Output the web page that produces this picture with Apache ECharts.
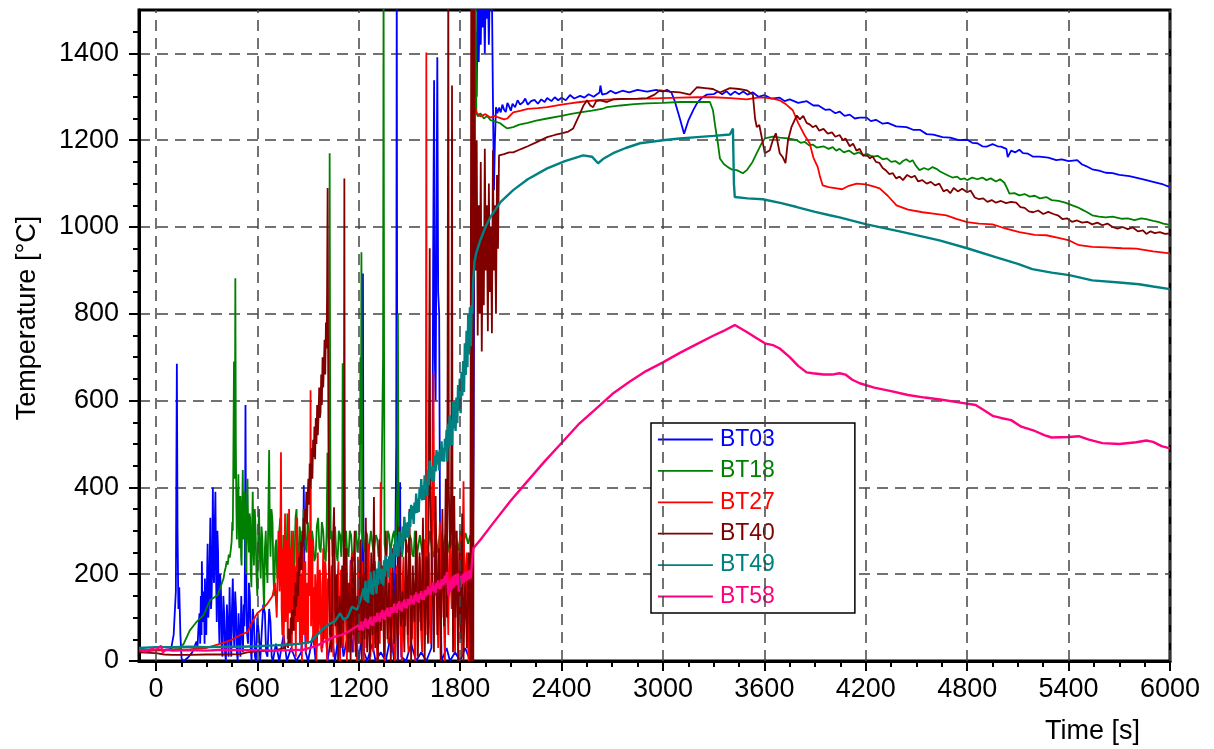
<!DOCTYPE html>
<html>
<head>
<meta charset="utf-8">
<script src="https://cdn.jsdelivr.net/npm/echarts@6/dist/echarts.min.js"></script>
<style>
  html, body { margin: 0; padding: 0; background: #fff; }
  #chart { width: 1214px; height: 749px; }
</style>
</head>
<body>
<div id="chart"></div>
<script>
// Thermocouple temperatures, [time s, temperature °C]
const bt03 = [[-100,24],[-50,22],[0,26],[50,25],[90,28],[105,60],[118,160],[124,685],[128,300],[133,120],[138,170],[145,60],[152,5],[165,0],[190,8],[215,20],[240,45],[246,30],[252,80],[258,110],[262,40],[266,150],[270,60],[272,230],[276,90],[280,90],[284,160],[288,40],[290,190],[294,110],[298,60],[302,180],[306,270],[310,100],[314,130],[318,220],[322,330],[326,120],[330,150],[334,260],[337,400],[341,200],[344,180],[348,300],[352,390],[356,200],[360,90],[364,300],[368,250],[372,100],[376,40],[380,200],[385,160],[390,30],[394,10],[399,150],[404,110],[409,20],[414,0],[420,130],[425,80],[430,10],[436,170],[441,60],[446,10],[450,120],[455,190],[460,70],[464,30],[469,160],[474,120],[479,20],[484,0],[489,110],[494,60],[500,10],[505,150],[510,80],[515,20],[520,130],[524,80],[527,250],[530,590],[533,300],[536,120],[540,60],[545,40],[550,180],[556,150],[561,30],[566,0],[573,120],[580,90],[586,10],[592,0],[600,100],[610,60],[617,0],[625,0],[635,130],[645,110],[652,20],[660,10],[670,120],[678,90],[685,10],[692,0],[710,40],[730,0],[755,60],[775,0],[800,30],[830,0],[860,20],[870,150],[875,405],[880,120],[886,20],[900,0],[930,60],[945,0],[970,150],[985,30],[1000,120],[1015,0],[1040,60],[1060,0],[1090,90],[1110,10],[1135,60],[1148,150],[1152,232],[1156,80],[1162,20],[1180,80],[1200,0],[1218,60],[1222,400],[1225,893],[1228,300],[1232,20],[1250,0],[1280,40],[1300,0],[1330,20],[1360,0],[1390,60],[1410,0],[1422,500],[1425,1600],[1428,500],[1432,0],[1440,200],[1445,412],[1449,100],[1452,10],[1480,0],[1510,40],[1540,0],[1570,20],[1600,0],[1630,30],[1637,500],[1640,900],[1646,1338],[1650,700],[1655,600],[1660,1000],[1665,1391],[1670,850],[1676,800],[1682,200],[1690,0],[1720,30],[1740,0],[1770,20],[1800,0],[1830,30],[1860,0],[1872,40],[1880,500],[1886,1250],[1892,1450],[1898,1300],[1904,1550],[1910,1380],[1916,1520],[1922,1420],[1928,1560],[1934,1460],[1940,1540],[1946,1400],[1952,1560],[1958,1480],[1964,1550],[1970,1420],[1976,1560],[1982,1500],[1988,1540],[1994,1300],[2000,1085],[2006,1200],[2012,1276],[2020,1262],[2030,1275],[2040,1264],[2050,1282],[2060,1270],[2070,1265],[2080,1286],[2090,1278],[2100,1268],[2110,1284],[2125,1276],[2140,1292],[2155,1282],[2173,1288],[2185,1296],[2200,1282],[2220,1290],[2240,1293],[2260,1284],[2280,1294],[2300,1288],[2315,1297],[2340,1290],[2360,1299],[2380,1292],[2400,1298],[2425,1292],[2450,1304],[2475,1296],[2510,1302],[2535,1298],[2560,1306],[2590,1300],[2610,1306],[2625,1310],[2630,1326],[2640,1305],[2669,1308],[2690,1314],[2720,1308],[2760,1314],[2800,1310],[2850,1316],[2906,1312],[2960,1316],[3000,1312],[3024,1316],[3050,1310],[3070,1290],[3100,1250],[3125,1215],[3150,1245],[3180,1270],[3201,1285],[3230,1298],[3260,1305],[3300,1306],[3325,1312],[3350,1306],[3375,1313],[3400,1304],[3425,1312],[3450,1306],[3475,1312],[3500,1305],[3532,1310],[3565,1300],[3600,1304],[3640,1296],[3691,1298],[3720,1290],[3750,1294],[3800,1286],[3851,1290],[3890,1280],[3920,1280],[3960,1270],[3987,1271],[4020,1262],[4045,1266],[4075,1256],[4105,1259],[4135,1250],[4164,1252],[4205,1252],[4230,1244],[4260,1247],[4300,1238],[4330,1240],[4380,1232],[4441,1230],[4480,1224],[4520,1224],[4560,1214],[4600,1213],[4654,1207],[4700,1206],[4750,1200],[4800,1201],[4830,1194],[4860,1193],[4890,1186],[4914,1185],[4950,1191],[4980,1186],[5000,1185],[5032,1180],[5040,1161],[5060,1176],[5085,1172],[5109,1178],[5130,1170],[5160,1169],[5190,1162],[5227,1162],[5280,1160],[5327,1154],[5360,1156],[5400,1152],[5451,1154],[5480,1144],[5500,1141],[5540,1133],[5580,1130],[5620,1125],[5660,1124],[5700,1120],[5760,1117],[5817,1112],[5860,1108],[5900,1104],[5960,1098],[6000,1092]];

const bt18 = [[-100,25],[0,24],[80,26],[140,28],[165,40],[200,70],[240,90],[283,106],[320,140],[366,152],[400,190],[406,205],[413,216],[419,230],[425,222],[431,245],[437,238],[443,256],[448,275],[452,320],[455,300],[458,450],[462,690],[465,420],[468,600],[470,882],[473,500],[476,360],[479,280],[482,400],[485,330],[488,430],[491,290],[494,260],[497,350],[500,380],[504,240],[507,220],[510,330],[514,440],[518,280],[521,300],[525,390],[528,360],[531,230],[535,200],[538,330],[542,420],[546,300],[550,250],[554,340],[558,330],[561,210],[565,170],[569,300],[573,390],[577,260],[580,220],[585,350],[590,300],[595,200],[600,150],[605,280],[610,350],[615,240],[620,190],[625,310],[630,280],[635,180],[640,120],[645,260],[650,300],[655,220],[660,180],[665,330],[670,486],[674,300],[678,240],[684,350],[690,320],[695,200],[700,150],[706,260],[712,280],[718,190],[724,200],[730,300],[736,330],[742,220],[748,180],[754,290],[760,260],[766,200],[772,220],[778,340],[784,310],[790,230],[796,200],[802,300],[808,270],[814,210],[820,230],[826,330],[832,350],[838,250],[844,220],[850,310],[856,290],[862,230],[868,240],[874,350],[880,330],[886,260],[892,250],[898,320],[905,300],[911,240],[918,230],[924,300],[930,280],[937,230],[945,240],[952,310],[960,330],[967,260],[975,250],[982,320],[990,300],[997,240],[1005,230],[1010,300],[1015,480],[1019,300],[1022,250],[1025,500],[1028,1170],[1031,600],[1034,280],[1040,300],[1045,240],[1052,280],[1060,310],[1067,250],[1075,230],[1082,300],[1090,290],[1097,240],[1102,300],[1105,686],[1108,350],[1112,260],[1118,280],[1125,300],[1132,250],[1140,240],[1147,300],[1155,290],[1162,240],[1170,230],[1177,290],[1185,300],[1192,250],[1200,250],[1206,300],[1210,700],[1213,500],[1216,942],[1219,600],[1222,300],[1228,270],[1235,250],[1242,300],[1250,290],[1257,240],[1265,240],[1272,300],[1280,300],[1287,250],[1295,250],[1302,290],[1310,280],[1317,240],[1325,240],[1332,300],[1340,300],[1344,700],[1347,1600],[1350,700],[1353,270],[1359,250],[1365,240],[1372,300],[1380,290],[1387,250],[1395,250],[1402,290],[1410,300],[1417,250],[1425,250],[1429,400],[1432,800],[1435,400],[1438,260],[1444,300],[1450,290],[1457,240],[1465,240],[1472,300],[1480,300],[1487,250],[1495,250],[1502,290],[1510,280],[1517,245],[1525,240],[1532,300],[1540,300],[1547,250],[1555,250],[1562,290],[1570,290],[1577,245],[1585,240],[1592,280],[1600,280],[1607,250],[1615,250],[1622,300],[1630,300],[1637,245],[1645,240],[1652,290],[1660,290],[1667,250],[1675,250],[1682,300],[1690,300],[1697,255],[1705,255],[1712,290],[1720,290],[1727,250],[1735,250],[1742,285],[1750,285],[1757,260],[1765,260],[1772,300],[1780,300],[1787,255],[1795,255],[1802,285],[1810,285],[1817,265],[1825,265],[1832,295],[1840,295],[1847,270],[1855,270],[1860,290],[1866,290],[1872,260],[1878,1600],[1884,1300],[1890,1600],[1896,1262],[1905,1255],[1920,1262],[1940,1250],[1960,1256],[1980,1246],[2000,1244],[2037,1239],[2060,1232],[2079,1227],[2114,1230],[2150,1236],[2200,1240],[2250,1245],[2315,1250],[2400,1256],[2450,1260],[2510,1264],[2580,1268],[2646,1273],[2669,1276],[2750,1280],[2830,1283],[2906,1285],[3000,1286],[3100,1288],[3200,1288],[3278,1288],[3296,1269],[3310,1230],[3325,1193],[3337,1158],[3360,1145],[3384,1138],[3410,1132],[3437,1131],[3473,1124],[3496,1131],[3530,1150],[3555,1170],[3580,1190],[3603,1204],[3650,1208],[3691,1206],[3740,1204],[3792,1200],[3815,1194],[3840,1196],[3865,1188],[3886,1190],[3910,1183],[3950,1186],[3980,1180],[4004,1184],[4025,1176],[4045,1180],[4070,1172],[4100,1176],[4130,1168],[4160,1172],[4182,1166],[4210,1168],[4240,1162],[4270,1164],[4300,1156],[4325,1158],[4350,1150],[4375,1152],[4400,1145],[4420,1152],[4440,1156],[4460,1150],[4477,1154],[4495,1142],[4518,1131],[4545,1136],[4570,1132],[4595,1138],[4618,1134],[4640,1128],[4660,1124],[4690,1118],[4713,1114],[4740,1116],[4760,1110],[4785,1112],[4800,1108],[4830,1114],[4860,1110],[4890,1114],[4914,1108],[4940,1112],[4970,1105],[4995,1110],[5020,1102],[5035,1090],[5050,1077],[5080,1078],[5109,1073],[5140,1076],[5170,1070],[5200,1072],[5230,1066],[5268,1069],[5300,1062],[5340,1060],[5380,1056],[5422,1050],[5450,1046],[5480,1040],[5510,1034],[5540,1027],[5580,1024],[5620,1022],[5660,1024],[5717,1019],[5750,1020],[5790,1016],[5830,1020],[5859,1018],[5900,1014],[5930,1012],[5960,1008],[6000,1005]];

const bt27 = [[-100,25],[0,25],[100,26],[200,27],[300,30],[384,40],[443,48],[500,60],[543,67],[570,90],[600,110],[630,120],[661,133],[690,150],[705,180],[715,100],[725,300],[732,160],[736,250],[740,481],[744,120],[748,60],[752,260],[756,30],[760,180],[764,340],[768,90],[772,230],[776,280],[780,50],[784,200],[788,350],[792,110],[796,240],[800,260],[804,20],[808,190],[812,300],[816,70],[820,220],[824,150],[828,10],[832,260],[836,330],[840,90],[844,210],[848,250],[852,40],[856,170],[860,200],[864,0],[868,230],[872,280],[876,60],[880,190],[884,230],[888,20],[892,150],[896,180],[900,40],[904,260],[908,300],[912,150],[915,624],[918,80],[922,200],[926,280],[930,50],[934,170],[938,30],[942,200],[946,120],[950,0],[954,180],[958,250],[962,60],[966,90],[970,210],[974,180],[978,30],[982,20],[986,160],[990,260],[994,110],[998,50],[1002,230],[1006,200],[1010,40],[1014,0],[1018,190],[1022,150],[1026,280],[1030,60],[1035,130],[1040,220],[1045,70],[1050,10],[1055,250],[1060,170],[1065,90],[1070,40],[1075,190],[1080,230],[1085,60],[1090,0],[1095,210],[1100,140],[1105,50],[1110,30],[1115,260],[1120,200],[1125,80],[1130,0],[1135,180],[1140,160],[1145,20],[1150,50],[1155,220],[1160,250],[1165,100],[1170,20],[1175,170],[1180,120],[1185,30],[1190,0],[1195,240],[1200,180],[1205,70],[1210,40],[1215,150],[1220,230],[1225,90],[1230,0],[1235,200],[1240,150],[1245,30],[1250,60],[1255,270],[1260,240],[1265,80],[1270,10],[1275,160],[1280,130],[1285,20],[1290,50],[1295,230],[1300,200],[1305,60],[1310,0],[1315,150],[1320,180],[1325,40],[1330,412],[1334,70],[1340,210],[1345,160],[1350,30],[1355,0],[1360,230],[1365,200],[1370,90],[1375,40],[1380,180],[1385,250],[1390,60],[1395,20],[1400,200],[1405,140],[1410,30],[1415,0],[1420,170],[1425,220],[1430,100],[1435,60],[1440,250],[1445,180],[1450,40],[1455,0],[1460,190],[1465,240],[1470,120],[1475,80],[1480,220],[1485,160],[1490,50],[1495,20],[1500,260],[1505,230],[1510,90],[1515,50],[1520,200],[1525,170],[1530,40],[1535,0],[1540,210],[1545,260],[1550,130],[1555,90],[1560,240],[1565,200],[1570,60],[1575,20],[1580,230],[1585,280],[1590,150],[1593,100],[1597,300],[1600,1402],[1603,200],[1606,60],[1610,180],[1615,250],[1620,100],[1625,40],[1630,220],[1635,300],[1638,420],[1642,663],[1646,350],[1650,150],[1655,200],[1660,280],[1665,120],[1670,30],[1675,240],[1680,320],[1685,180],[1690,100],[1695,270],[1700,250],[1705,80],[1710,0],[1715,200],[1720,370],[1725,150],[1730,60],[1735,230],[1740,290],[1745,180],[1750,120],[1755,300],[1760,350],[1765,100],[1770,20],[1775,200],[1780,260],[1785,140],[1790,80],[1795,250],[1800,300],[1805,100],[1810,10],[1815,260],[1820,414],[1825,200],[1830,120],[1835,220],[1840,250],[1845,60],[1850,0],[1855,180],[1860,200],[1865,50],[1870,0],[1876,1320],[1882,1280],[1900,1262],[1920,1255],[1950,1260],[1980,1252],[2000,1256],[2030,1252],[2060,1248],[2079,1250],[2114,1264],[2160,1268],[2200,1272],[2260,1274],[2315,1276],[2400,1282],[2450,1285],[2510,1288],[2600,1292],[2705,1294],[2800,1295],[2906,1296],[3000,1297],[3100,1298],[3200,1299],[3300,1299],[3400,1297],[3496,1294],[3560,1298],[3600,1298],[3650,1296],[3691,1292],[3730,1282],[3768,1269],[3800,1240],[3840,1210],[3868,1193],[3890,1160],[3916,1138],[3930,1115],[3945,1096],[3980,1092],[4028,1089],[4060,1087],[4100,1095],[4146,1100],[4200,1098],[4240,1094],[4282,1089],[4330,1072],[4382,1050],[4450,1040],[4536,1034],[4600,1031],[4677,1027],[4740,1018],[4800,1011],[4870,1008],[4950,1006],[5030,996],[5109,988],[5200,982],[5268,981],[5340,975],[5404,969],[5440,962],[5463,958],[5540,954],[5620,953],[5717,951],[5800,950],[5900,944],[6000,939]];

const bt40 = [[-100,20],[0,18],[50,15],[100,14],[200,14],[300,15],[400,15],[500,16],[540,20],[600,22],[700,24],[760,30],[770,35],[778,41],[782,30],[786,75],[790,52],[794,40],[798,100],[802,62],[806,118],[810,95],[814,70],[818,150],[822,104],[826,180],[830,125],[834,160],[838,205],[842,150],[846,240],[850,196],[854,230],[858,275],[862,210],[866,300],[870,262],[874,330],[878,280],[882,350],[886,320],[890,390],[894,315],[898,380],[902,420],[906,360],[910,455],[914,400],[918,430],[922,490],[926,420],[930,510],[934,470],[938,540],[942,465],[946,560],[950,500],[954,590],[958,520],[962,560],[966,630],[970,560],[974,571],[978,660],[982,590],[986,700],[990,630],[994,680],[998,740],[1002,660],[1006,780],[1010,720],[1013,860],[1016,1090],[1019,700],[1022,400],[1026,150],[1030,60],[1038,20],[1046,250],[1054,354],[1062,80],[1070,200],[1078,0],[1086,150],[1094,30],[1102,220],[1110,60],[1113,600],[1115,1112],[1117,500],[1120,100],[1128,260],[1136,20],[1144,180],[1152,0],[1160,240],[1168,60],[1176,300],[1184,10],[1192,150],[1200,40],[1210,280],[1218,0],[1226,200],[1234,50],[1242,330],[1250,20],[1258,170],[1266,0],[1274,250],[1282,60],[1290,378],[1298,30],[1306,190],[1314,0],[1322,280],[1330,70],[1340,220],[1350,10],[1360,300],[1370,50],[1380,180],[1390,0],[1400,260],[1410,40],[1420,200],[1430,0],[1440,310],[1450,80],[1460,160],[1470,20],[1480,280],[1490,60],[1500,350],[1510,0],[1520,220],[1530,90],[1540,300],[1550,10],[1560,250],[1570,70],[1580,330],[1590,0],[1600,240],[1610,40],[1617,700],[1620,951],[1623,400],[1630,260],[1640,120],[1645,20],[1655,380],[1665,60],[1675,260],[1685,0],[1695,350],[1705,80],[1715,420],[1722,100],[1726,700],[1730,1600],[1733,400],[1740,260],[1745,300],[1749,600],[1752,1326],[1755,300],[1758,20],[1765,380],[1772,100],[1780,300],[1788,0],[1796,260],[1804,50],[1812,340],[1820,0],[1830,200],[1840,30],[1850,250],[1860,0],[1863,800],[1866,1600],[1868,300],[1870,0],[1872,900],[1874,1600],[1876,200],[1878,0],[1880,1000],[1882,1600],[1886,1250],[1892,900],[1898,1200],[1904,750],[1910,1050],[1916,800],[1922,1150],[1928,713],[1934,1000],[1940,820],[1946,1180],[1952,900],[1958,1050],[1964,760],[1970,1100],[1976,850],[1982,1000],[1988,755],[1994,1177],[2000,900],[2006,1050],[2012,800],[2018,1120],[2024,950],[2030,1165],[2060,1168],[2090,1172],[2114,1172],[2150,1178],[2170,1181],[2200,1186],[2250,1195],[2315,1207],[2360,1212],[2400,1216],[2440,1220],[2469,1227],[2490,1245],[2510,1262],[2530,1280],[2551,1292],[2570,1280],[2587,1276],[2605,1290],[2628,1292],[2669,1288],[2705,1294],[2760,1295],[2850,1296],[2906,1297],[2950,1305],[2982,1315],[3040,1312],[3100,1310],[3160,1305],[3201,1322],[3250,1320],[3296,1318],[3337,1310],[3396,1320],[3450,1318],[3496,1315],[3532,1305],[3545,1250],[3555,1230],[3570,1235],[3603,1170],[3632,1177],[3650,1200],[3668,1216],[3691,1170],[3710,1160],[3725,1147],[3740,1200],[3760,1230],[3792,1257],[3810,1248],[3830,1256],[3850,1240],[3870,1236],[3886,1230],[3905,1234],[3925,1222],[3950,1226],[3975,1215],[4000,1218],[4020,1208],[4045,1212],[4065,1200],[4080,1204],[4105,1186],[4125,1192],[4145,1176],[4164,1180],[4185,1164],[4205,1166],[4225,1158],[4240,1163],[4260,1150],[4280,1148],[4300,1136],[4320,1130],[4340,1122],[4360,1124],[4380,1112],[4400,1116],[4420,1108],[4445,1120],[4470,1114],[4490,1118],[4510,1105],[4535,1108],[4560,1100],[4585,1104],[4610,1096],[4635,1100],[4660,1082],[4680,1086],[4700,1078],[4720,1090],[4745,1082],[4770,1088],[4800,1080],[4820,1084],[4845,1068],[4870,1064],[4895,1066],[4920,1058],[4945,1062],[4970,1056],[5000,1060],[5030,1055],[5060,1058],[5090,1056],[5115,1046],[5140,1044],[5165,1036],[5190,1034],[5220,1038],[5250,1030],[5280,1035],[5310,1030],[5340,1026],[5365,1018],[5390,1020],[5420,1012],[5450,1015],[5480,1010],[5510,1012],[5540,1006],[5570,1010],[5600,1004],[5630,1008],[5660,1000],[5690,996],[5720,1000],[5750,995],[5780,999],[5810,990],[5840,992],[5860,984],[5885,990],[5910,986],[5940,988],[5970,984],[6000,985]];

const bt49 = [[-100,30],[0,32],[100,32],[200,33],[300,32],[400,33],[500,33],[600,34],[700,36],[800,38],[860,40],[915,44],[950,60],[980,70],[1000,78],[1034,87],[1060,92],[1090,110],[1110,95],[1134,101],[1160,125],[1190,118],[1210,140],[1230,168],[1235,140],[1240,185],[1245,137],[1250,168],[1255,134],[1260,187],[1265,161],[1270,205],[1275,154],[1280,187],[1285,152],[1290,208],[1295,172],[1300,190],[1305,155],[1310,213],[1315,176],[1320,231],[1325,188],[1330,213],[1335,178],[1340,212],[1345,174],[1350,232],[1355,194],[1360,243],[1365,208],[1370,235],[1375,193],[1380,241],[1385,215],[1390,261],[1395,215],[1400,247],[1405,215],[1410,269],[1415,244],[1420,289],[1425,240],[1430,274],[1435,241],[1440,298],[1445,264],[1450,283],[1455,250],[1460,310],[1465,275],[1470,332],[1475,290],[1480,317],[1485,284],[1490,320],[1495,284],[1500,344],[1505,309],[1510,360],[1515,327],[1520,357],[1525,316],[1530,365],[1535,340],[1540,386],[1545,341],[1550,374],[1555,343],[1560,397],[1565,374],[1570,419],[1575,370],[1580,404],[1585,371],[1590,428],[1595,394],[1600,413],[1605,380],[1610,440],[1615,405],[1620,462],[1625,420],[1630,447],[1635,414],[1640,450],[1645,414],[1650,473],[1655,437],[1660,486],[1665,453],[1670,482],[1675,439],[1680,487],[1685,460],[1690,506],[1695,460],[1700,491],[1705,459],[1710,512],[1715,488],[1720,533],[1723,460],[1728,547],[1733,489],[1738,566],[1743,498],[1748,555],[1753,497],[1758,599],[1763,536],[1768,598],[1773,530],[1778,607],[1783,548],[1788,636],[1793,576],[1798,651],[1803,571],[1808,666],[1813,611],[1818,691],[1823,620],[1828,732],[1833,659],[1838,761],[1843,677],[1848,799],[1853,706],[1858,815],[1863,725],[1868,820],[1872,800],[1878,880],[1885,920],[1895,940],[1919,969],[1950,1000],[1978,1022],[2040,1058],[2114,1085],[2200,1110],[2315,1135],[2420,1152],[2528,1165],[2580,1162],[2616,1147],[2650,1158],[2705,1170],[2780,1182],[2864,1193],[3000,1200],[3100,1204],[3201,1207],[3300,1210],[3396,1213],[3405,1216],[3414,1227],[3420,1100],[3425,1069],[3500,1066],[3591,1064],[3700,1055],[3792,1046],[3900,1035],[3987,1027],[4045,1022],[4205,1006],[4400,990],[4636,969],[4800,951],[4973,930],[5100,915],[5185,903],[5300,895],[5404,889],[5540,877],[5700,872],[5817,868],[5900,863],[6000,857]];

const bt58 = [[-100,25],[-60,22],[-20,28],[0,25],[30,35],[40,20],[60,26],[100,24],[200,25],[300,24],[400,26],[500,25],[600,25],[700,24],[800,25],[875,26],[950,35],[1000,45],[1050,55],[1100,60],[1150,70],[1200,83],[1205,70],[1210,91],[1215,74],[1220,82],[1225,70],[1230,92],[1235,80],[1240,98],[1245,77],[1250,90],[1255,74],[1260,96],[1265,85],[1270,102],[1275,82],[1280,93],[1285,81],[1290,103],[1295,89],[1300,103],[1305,90],[1310,111],[1315,94],[1320,102],[1325,90],[1330,112],[1335,100],[1340,118],[1345,97],[1350,110],[1355,95],[1360,117],[1365,106],[1370,123],[1375,103],[1380,114],[1385,102],[1390,124],[1395,110],[1400,124],[1405,111],[1410,132],[1415,115],[1420,123],[1425,111],[1430,133],[1435,121],[1440,138],[1445,117],[1450,130],[1455,114],[1460,136],[1465,125],[1470,142],[1475,122],[1480,133],[1485,121],[1490,143],[1495,129],[1500,143],[1505,130],[1510,151],[1515,134],[1520,142],[1525,130],[1530,152],[1535,140],[1540,158],[1545,137],[1550,150],[1555,134],[1560,156],[1565,144],[1570,161],[1575,141],[1580,153],[1585,141],[1590,163],[1595,149],[1600,164],[1605,151],[1610,172],[1615,155],[1620,164],[1625,152],[1630,174],[1635,162],[1640,181],[1645,160],[1650,173],[1655,157],[1660,180],[1665,169],[1670,186],[1675,166],[1680,178],[1685,166],[1690,188],[1695,174],[1700,189],[1705,176],[1710,197],[1715,180],[1720,198],[1723,205],[1727,170],[1732,150],[1737,180],[1742,160],[1747,190],[1752,165],[1757,195],[1762,170],[1767,198],[1772,174],[1777,200],[1782,176],[1787,202],[1792,160],[1797,190],[1802,170],[1807,196],[1812,178],[1817,200],[1822,180],[1827,204],[1832,184],[1837,206],[1842,186],[1847,208],[1852,188],[1857,210],[1862,190],[1867,212],[1872,215],[1878,260],[1919,279],[2000,320],[2100,370],[2200,415],[2300,460],[2404,504],[2500,545],[2600,580],[2700,615],[2800,643],[2900,668],[3000,688],[3100,710],[3200,730],[3300,750],[3366,762],[3425,774],[3496,758],[3550,745],[3603,732],[3650,728],[3691,720],[3750,700],[3800,680],[3850,665],[3886,663],[3950,660],[4000,660],[4045,663],[4080,660],[4120,648],[4164,640],[4250,630],[4350,622],[4450,613],[4550,607],[4650,602],[4750,596],[4850,590],[4900,578],[4950,565],[5000,560],[5060,555],[5120,540],[5200,530],[5260,520],[5300,515],[5400,516],[5460,518],[5520,510],[5600,502],[5700,500],[5800,504],[5860,508],[5900,505],[5950,495],[6000,490]];

const seriesNames = ['BT03', 'BT18', 'BT27', 'BT40', 'BT49', 'BT58'];
const seriesData = [bt03, bt18, bt27, bt40, bt49, bt58];
const seriesColors = ['#0000ff', '#008000', '#ff0000', '#800000', '#008080', '#ff0080'];
const seriesWidths = [1.8, 1.8, 1.8, 1.8, 2.4, 2.4];

// Axis ticks
const xMajorTicks = [0, 600, 1200, 1800, 2400, 3000, 3600, 4200, 4800, 5400, 6000];
const xMinorTicks = [150, 300, 450, 750, 900, 1050, 1350, 1500, 1650, 1950, 2100, 2250, 2550, 2700, 2850, 3150, 3300, 3450, 3750, 3900, 4050, 4350, 4500, 4650, 4950, 5100, 5250, 5550, 5700, 5850];
const yMajorTicks = [0, 200, 400, 600, 800, 1000, 1200, 1400];
const yMinorTicks = [50, 100, 150, 250, 300, 350, 450, 500, 550, 650, 700, 750, 850, 900, 950, 1050, 1100, 1150, 1250, 1300, 1350, 1450];

const FONT = '"Liberation Sans", Arial, Helvetica, sans-serif';
const gridDash = { type: [11, 7], color: '#444', width: 1.5 };
const plainNumber = v => String(v);

const chart = echarts.init(document.getElementById('chart'), null, { renderer: 'canvas' });

const dataSeries = seriesNames.map((name, i) => ({
  name: name,
  type: 'line',
  data: seriesData[i],
  xAxisIndex: 0,
  yAxisIndex: 0,
  showSymbol: false,
  symbol: 'none',
  clip: true,
  z: 3,
  lineStyle: { color: seriesColors[i], width: seriesWidths[i] },
  itemStyle: { color: seriesColors[i] },
  emphasis: { disabled: true }
}));

// Vertical dashed grid lines at the major time ticks
const gridLineSeries = {
  name: 'xgrid',
  type: 'line',
  data: [],
  xAxisIndex: 0,
  yAxisIndex: 0,
  z: 1,
  silent: true,
  markLine: {
    silent: true,
    symbol: ['none', 'none'],
    label: { show: false },
    lineStyle: gridDash,
    animation: false,
    data: xMajorTicks.map(v => ({ xAxis: v }))
  }
};

chart.setOption({
  animation: false,
  backgroundColor: '#ffffff',
  textStyle: { fontFamily: FONT },
  grid: {
    left: 139, right: 44, top: 10, bottom: 88,
    show: true, borderColor: '#000', borderWidth: 3, backgroundColor: 'transparent'
  },
  legend: {
    data: seriesNames.map((n, i) => ({ name: n, textStyle: { color: seriesColors[i] } })),
    orient: 'vertical',
    left: 651,
    top: 423,
    itemWidth: 55,
    itemHeight: 20,
    itemGap: 8.4,
    padding: [5, 80, 5, 6],
    borderColor: '#000',
    borderWidth: 1.5,
    backgroundColor: '#fff',
    selectedMode: false,
    itemStyle: { opacity: 0 },
    lineStyle: { width: 1.8 },
    textStyle: { fontSize: 23, fontFamily: FONT, lineHeight: 20, padding: [0, 0, 0, 2] }
  },
  xAxis: [
    {
      type: 'value', min: -100, max: 6000, position: 'bottom',
      axisLine: { show: true, onZero: false, lineStyle: { color: '#000', width: 3 } },
      axisTick: { show: true, inside: false, length: 10, customValues: xMajorTicks, lineStyle: { color: '#000', width: 2 } },
      axisLabel: { show: true, customValues: xMajorTicks, formatter: plainNumber, margin: 15, color: '#000', fontSize: 27, fontFamily: FONT },
      splitLine: { show: false },
      minorTick: { show: false }
    },
    {
      type: 'value', min: -100, max: 6000, position: 'bottom',
      axisLine: { show: false, onZero: false },
      axisTick: { show: true, inside: false, length: 6, customValues: xMinorTicks, lineStyle: { color: '#000', width: 2 } },
      axisLabel: { show: false },
      splitLine: { show: false }
    }
  ],
  yAxis: [
    {
      type: 'value', min: 0, max: 1500, interval: 200, position: 'left',
      axisLine: { show: true, onZero: false, lineStyle: { color: '#000', width: 3 } },
      axisTick: { show: true, inside: false, length: 10, customValues: yMajorTicks, lineStyle: { color: '#000', width: 2 } },
      axisLabel: { show: true, customValues: yMajorTicks, formatter: plainNumber, margin: 20, color: '#000', fontSize: 27, fontFamily: FONT },
      splitLine: { show: true, lineStyle: gridDash },
      minorTick: { show: false }
    },
    {
      type: 'value', min: 0, max: 1500, position: 'left',
      axisLine: { show: false, onZero: false },
      axisTick: { show: true, inside: false, length: 6, customValues: yMinorTicks, lineStyle: { color: '#000', width: 2 } },
      axisLabel: { show: false },
      splitLine: { show: false }
    }
  ],
  graphic: [
    {
      type: 'text', left: 1045, top: 718, silent: true,
      style: { text: 'Time [s]', fill: '#000', font: '27px ' + FONT }
    },
    {
      type: 'text', x: 28, y: 318, rotation: Math.PI / 2, silent: true,
      style: { text: 'Temperature [°C]', fill: '#000', font: '27px ' + FONT, align: 'center', verticalAlign: 'middle' }
    }
  ],
  series: [gridLineSeries].concat(dataSeries)
});
</script>
</body>
</html>
